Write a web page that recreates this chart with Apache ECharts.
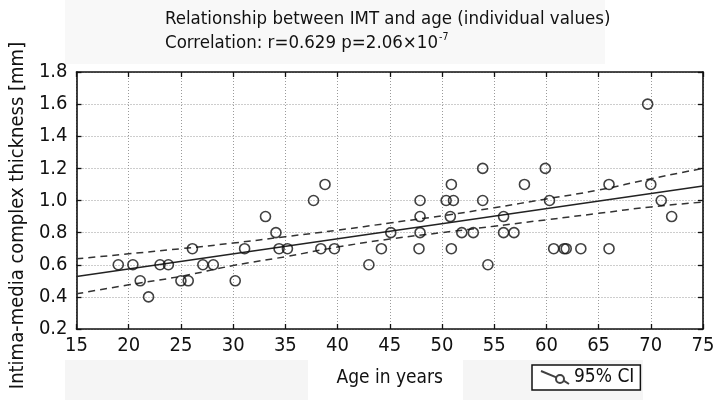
<!DOCTYPE html>
<html>
<head>
<meta charset="utf-8">
<script src="https://cdn.jsdelivr.net/npm/echarts@6/dist/echarts.min.js"></script>
<style>
  html, body { margin: 0; padding: 0; background: #ffffff; }
  #chart { width: 725px; height: 400px; }
</style>
</head>
<body>
<div id="chart"></div>
<script>
// ---- data ----
const titleLine1 = 'Relationship between IMT and age (individual values)';
const titleLine2 = 'Correlation: r=0.629 p=2.06\u00d710';
const titleExp = '-7';
const xAxisName = 'Age in years';
const yAxisName = 'Intima-media complex thickness [mm]';
const legendName = '95% CI';

// individual values [age, IMT]
const ages = [19.0, 20.4, 21.1, 21.9, 23.0, 23.8, 25.0, 25.7, 26.1, 27.1, 28.1, 30.2,
  31.1, 33.1, 34.1, 34.4, 35.2, 37.7, 38.8, 38.4, 39.7, 43.0, 44.2, 45.1,
  47.9, 47.9, 47.9, 47.8, 50.4, 51.1, 50.9, 50.8, 50.9, 51.9, 53.0, 53.9,
  53.9, 54.4, 55.9, 55.9, 56.9, 57.9, 59.9, 60.3, 60.7, 61.7, 61.9, 63.3,
  66.0, 66.0, 69.7, 70.0, 71.0, 72.0];
const imt = [0.6, 0.6, 0.5, 0.4, 0.6, 0.6, 0.5, 0.5, 0.7, 0.6, 0.6, 0.5,
  0.7, 0.9, 0.8, 0.7, 0.7, 1.0, 1.1, 0.7, 0.7, 0.6, 0.7, 0.8,
  1.0, 0.9, 0.8, 0.7, 1.0, 1.0, 1.1, 0.9, 0.7, 0.8, 0.8, 1.2,
  1.0, 0.6, 0.9, 0.8, 0.8, 1.1, 1.2, 1.0, 0.7, 0.7, 0.7, 0.7,
  1.1, 0.7, 1.6, 1.1, 1.0, 0.9];

// regression line (end points)
const regAges = [15, 75];
const regValues = [0.527, 1.09];

// 95% confidence band
const ciAges  = [15, 20, 25, 30, 35, 40, 45, 50, 55, 60, 65, 70, 75];
const ciUpper = [0.637, 0.668, 0.700, 0.735, 0.775, 0.815, 0.860, 0.905, 0.955, 1.010, 1.065, 1.135, 1.200];
const ciLower = [0.419, 0.475, 0.528, 0.595, 0.650, 0.710, 0.760, 0.800, 0.840, 0.880, 0.920, 0.960, 0.990];

// axes
const xMin = 15, xMax = 75, xStep = 5;
const yMin = 0.2, yMax = 1.8, yStep = 0.2;

// ---- chart ----
const FONT = "'Liberation Sans Narrow', 'DejaVu Sans Condensed', 'Noto Sans', sans-serif";
const INK = '#111111';
const zip = (a, b) => a.map((v, i) => [v, b[i]]);

const chart = echarts.init(document.getElementById('chart'), null, { renderer: 'canvas' });

const axisBase = {
  type: 'value',
  axisLine: { show: true, lineStyle: { color: INK, width: 1.6 } },
  axisTick: { show: true, inside: true, length: 5, lineStyle: { color: INK, width: 1.3 } }
};

const option = {
  backgroundColor: '#ffffff',
  animation: false,
  textStyle: { fontFamily: FONT },
  graphic: [
    { type: 'rect', z: -10, silent: true, shape: { x: 65, y: 0, width: 540, height: 64 }, style: { fill: '#f8f8f8' } },
    { type: 'rect', z: -10, silent: true, shape: { x: 65, y: 360, width: 243, height: 40 }, style: { fill: '#f5f5f5' } },
    { type: 'rect', z: -10, silent: true, shape: { x: 463, y: 360, width: 180, height: 40 }, style: { fill: '#f5f5f5' } }
  ],
  title: {
    left: 165,
    top: 7,
    padding: 0,
    text: '{t|' + titleLine1 + '}\n{t|' + titleLine2 + '}{s|' + titleExp + '}',
    textStyle: {
      fontFamily: FONT,
      fontWeight: 'normal',
      color: INK,
      rich: {
        t: { fontFamily: FONT, fontSize: 18.5, lineHeight: 24, color: INK },
        s: { fontFamily: FONT, fontSize: 10.5, lineHeight: 24, verticalAlign: 'top', color: INK, padding: [1, 0, 0, 1] }
      }
    }
  },
  legend: {
    left: 532,
    top: 365,
    orient: 'horizontal',
    padding: [3, 6, 3, 8],
    itemGap: 6,
    itemWidth: 28,
    itemHeight: 13,
    borderColor: INK,
    borderWidth: 1.5,
    borderRadius: 0,
    backgroundColor: '#ffffff',
    textStyle: { fontFamily: FONT, fontSize: 19, color: INK, padding: [0, 0, 0, 0] },
    data: [{
      name: legendName,
      icon: 'path://M0 0 L15.3 6.3 M22.7 9.7 L28 13 M15 8 A4 4 0 1 0 23 8 A4 4 0 1 0 15 8'
    }]
  },
  grid: { left: 72, right: 22, top: 72, bottom: 71, containLabel: false },
  xAxis: [
    Object.assign({}, axisBase, {
      min: xMin, max: xMax, interval: xStep,
      position: 'bottom',
      name: xAxisName,
      nameLocation: 'middle',
      nameGap: 40,
      nameTextStyle: { fontFamily: FONT, fontSize: 19, color: INK },
      axisLabel: { show: true, margin: 7, fontFamily: FONT, fontSize: 20, color: INK },
      splitLine: { show: true, lineStyle: { color: '#9a9a9a', width: 1, type: [1, 2] } }
    }),
    Object.assign({}, axisBase, {
      min: xMin, max: xMax, interval: xStep,
      position: 'top',
      axisLabel: { show: false },
      splitLine: { show: false }
    })
  ],
  yAxis: [
    Object.assign({}, axisBase, {
      min: yMin, max: yMax, interval: yStep,
      position: 'left',
      name: yAxisName,
      nameLocation: 'middle',
      nameGap: 45,
      nameRotate: 90,
      nameTextStyle: { fontFamily: FONT, fontSize: 20, color: INK, padding: [0, 30, 0, 0] },
      axisLabel: { show: true, margin: 9, fontFamily: FONT, fontSize: 20, color: INK,
        formatter: v => v.toFixed(1) },
      splitLine: { show: true, lineStyle: { color: '#9a9a9a', width: 1, type: [1, 2] } }
    }),
    Object.assign({}, axisBase, {
      min: yMin, max: yMax, interval: yStep,
      position: 'right',
      axisLabel: { show: false },
      splitLine: { show: false }
    })
  ],
  series: [
    {
      name: 'Regression',
      type: 'line',
      data: zip(regAges, regValues),
      symbol: 'none',
      lineStyle: { color: '#222', width: 1.5 },
      z: 2
    },
    {
      name: 'Upper 95% CI',
      type: 'line',
      data: zip(ciAges, ciUpper),
      smooth: true,
      symbol: 'none',
      lineStyle: { color: '#333', width: 1.5, type: [7, 5] },
      z: 2
    },
    {
      name: 'Lower 95% CI',
      type: 'line',
      data: zip(ciAges, ciLower),
      smooth: true,
      symbol: 'none',
      lineStyle: { color: '#333', width: 1.5, type: [7, 5] },
      z: 2
    },
    {
      name: legendName,
      type: 'scatter',
      data: zip(ages, imt),
      symbol: 'circle',
      symbolSize: 10,
      itemStyle: { color: 'rgba(0,0,0,0)', borderColor: INK, borderWidth: 1.6 },
      z: 3
    }
  ]
};

chart.setOption(option);
</script>
</body>
</html>
